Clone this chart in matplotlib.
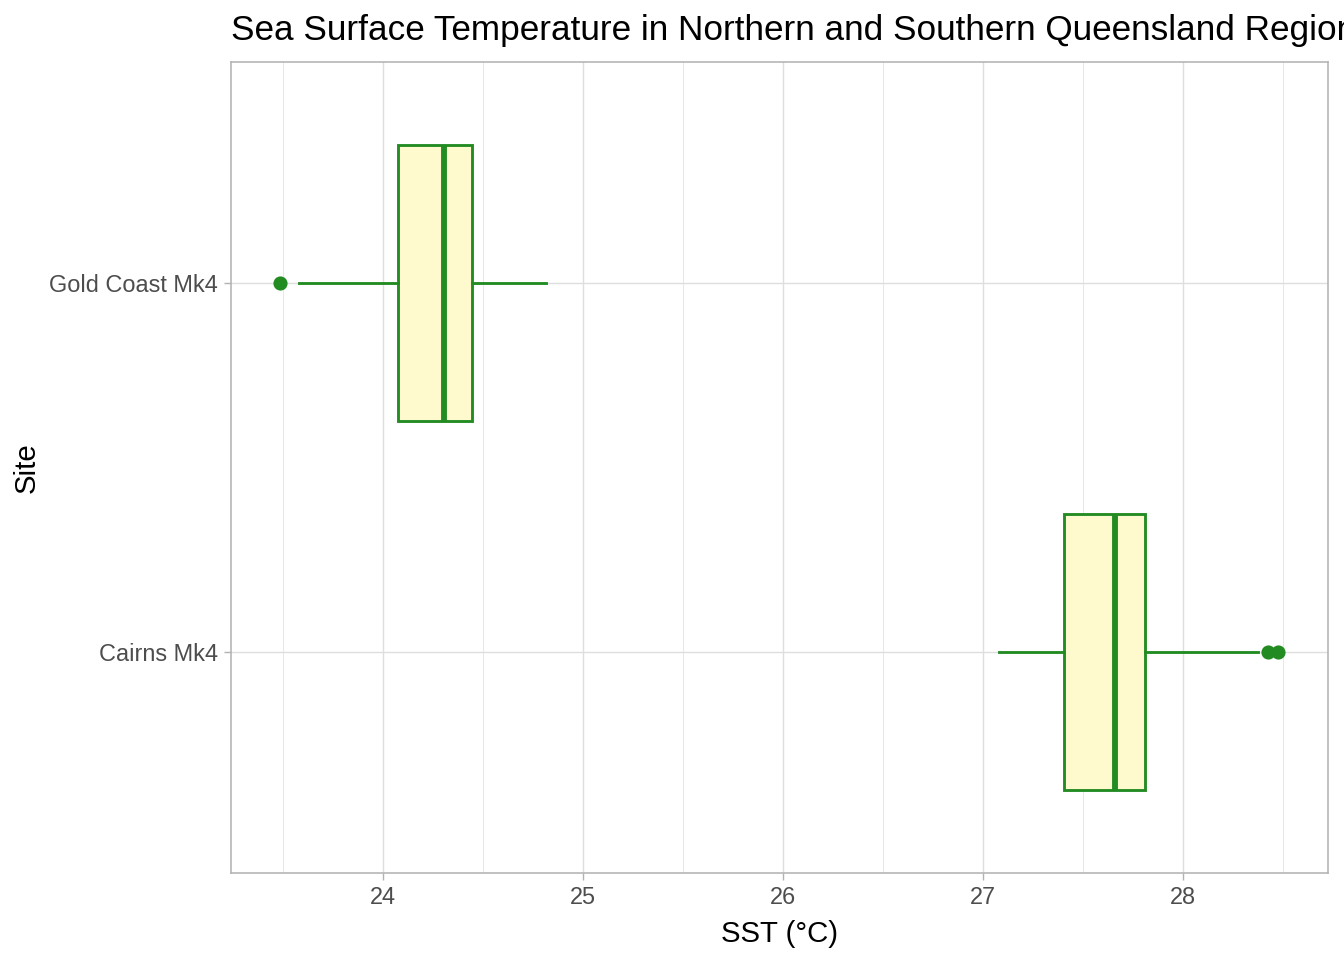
import matplotlib
matplotlib.use("Agg")
import matplotlib.pyplot as plt
from matplotlib.ticker import MultipleLocator

plt.rcParams["font.family"] = ["Liberation Sans", "DejaVu Sans"]

# ─── Data ────────────────────────────────────────────────────────────────────
sites = ["Cairns Mk4", "Gold Coast Mk4"]
whisker_low = [27.08, 23.58]
q1 = [27.405, 24.075]
median = [27.66, 24.305]
q3 = [27.81, 24.445]
whisker_high = [28.375, 24.815]
outliers = [[28.425, 28.475], [23.485]]
# ─────────────────────────────────────────────────────────────────────────────

GREEN = "#228B22"
FILL = "#FFFACD"

stats = []
for i, name in enumerate(sites):
    stats.append(dict(label=name, whislo=whisker_low[i], q1=q1[i], med=median[i],
                      q3=q3[i], whishi=whisker_high[i], fliers=outliers[i]))

fig = plt.figure(figsize=(7, 5), dpi=192)
ax = fig.add_axes([231 / 1344, 1 - 873 / 960, (1328 - 231) / 1344, (873 - 62) / 960])

ax.bxp(stats, positions=[1, 2], widths=0.75, vert=False, patch_artist=True,
       showcaps=False,
       boxprops=dict(facecolor=FILL, edgecolor=GREEN, linewidth=1.07),
       whiskerprops=dict(color=GREEN, linewidth=1.07),
       medianprops=dict(color=GREEN, linewidth=2.2, solid_capstyle="butt"),
       flierprops=dict(marker="o", markerfacecolor=GREEN, markeredgecolor=GREEN,
                       markersize=4.3, linestyle="none"),
       zorder=3)

ax.set_xlim(23.24, 28.725)
ax.set_ylim(0.4, 2.6)
ax.xaxis.set_major_locator(MultipleLocator(1))
ax.xaxis.set_minor_locator(MultipleLocator(0.5))
ax.set_yticks([1, 2])
ax.set_yticklabels(sites)

ax.grid(which="major", color="#DEDEDE", linewidth=0.53, zorder=0)
ax.grid(which="minor", axis="x", color="#DEDEDE", linewidth=0.27, zorder=0)
ax.set_axisbelow(True)
for s in ax.spines.values():
    s.set_color("#B3B3B3")
    s.set_linewidth(0.6)

ax.tick_params(which="major", length=2.75, width=0.53, color="#B3B3B3",
               labelsize=8.8, labelcolor="#4D4D4D", pad=2.2)
ax.tick_params(which="minor", length=0)

ax.set_xlabel("SST (°C)", fontsize=11, labelpad=4)
ax.set_ylabel("Site", fontsize=11, labelpad=3)

fig.text(231 / 1344, 1 - 40 / 960,
         "Sea Surface Temperature in Northern and Southern Queensland Regions",
         fontsize=13.2, ha="left", va="baseline")

fig.savefig("out.png", dpi=192)
